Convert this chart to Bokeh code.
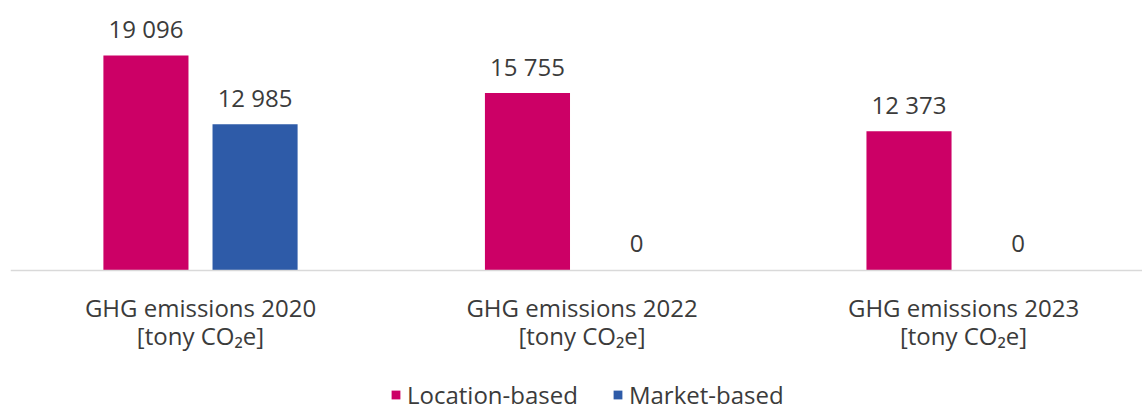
from bokeh.plotting import figure
from bokeh.models import (ColumnDataSource, Range1d, Span, Legend, LegendItem)
from bokeh.core.properties import value
from bokeh.embed import file_html
from bokeh.resources import INLINE

categories = ["GHG emissions 2020\n[tony CO\u2082e]",
              "GHG emissions 2022\n[tony CO\u2082e]",
              "GHG emissions 2023\n[tony CO\u2082e]"]
location_based = [19096, 15755, 12373]
market_based = [12985, 0, 0]
series_names = ["Location-based", "Market-based"]

PINK = "#CC0066"
BLUE = "#2E5BA8"
TEXT = "#3b3b3b"
FONT = "Open Sans"
FS = "24px"

def fmt(v):
    return f"{v:,}".replace(",", " ")

xs = list(range(len(categories)))
bar_w = 0.223
off = 0.1430

loc_src = ColumnDataSource(dict(x=[x - off for x in xs], top=location_based,
                                lbl=[fmt(v) for v in location_based]))
mkt_src = ColumnDataSource(dict(x=[x + off for x in xs], top=market_based,
                                lbl=[fmt(v) for v in market_based]))
cat_src = ColumnDataSource(dict(x=xs, y=[0] * len(xs),
                                line1=[c.split("\n")[0] for c in categories],
                                line2=[c.split("\n")[1] for c in categories]))

# Plot area spans the full height; the baseline (value 0) sits 140 px above
# the bottom so the category captions and the legend fit beneath it.
p = figure(width=1142, height=410, output_backend="svg",
           toolbar_location=None,
           x_range=Range1d(-0.498, 2.469), y_range=Range1d(-12435, 23981),
           min_border_left=10, min_border_right=0, min_border_top=0,
           min_border_bottom=0)
p.outline_line_color = None
p.grid.visible = False
p.axis.visible = False

r_loc = p.vbar(x="x", top="top", width=bar_w, source=loc_src,
               fill_color=PINK, line_color=None)
r_mkt = p.vbar(x="x", top="top", width=bar_w, source=mkt_src,
               fill_color=BLUE, line_color=None)

p.add_layout(Span(location=0, dimension="width", line_color="#d9d9d9",
                  line_width=1.5))

for src in (loc_src, mkt_src):
    p.text(x="x", y="top", text="lbl", source=src, text_align="center",
           text_baseline="middle", y_offset=-27, text_color=TEXT,
           text_font=value(FONT), text_font_size=FS)

# Category captions under the baseline
for col, dy in (("line1", 37), ("line2", 65)):
    p.text(x="x", y="y", text=col, source=cat_src, text_align="center",
           text_baseline="middle", y_offset=dy, text_color=TEXT,
           text_font=value(FONT), text_font_size=FS)

legend = Legend(items=[LegendItem(label=series_names[0], renderers=[r_loc]),
                       LegendItem(label=series_names[1], renderers=[r_mkt])],
                orientation="horizontal", location=(380, -1),
                glyph_width=11, glyph_height=11, spacing=34,
                label_text_font=FONT, label_text_font_size=FS,
                label_text_color=TEXT, border_line_color=None,
                background_fill_alpha=0, padding=0, margin=0,
                label_standoff=6)
p.add_layout(legend, "center")

open("out.html", "w").write(file_html(p, INLINE))
